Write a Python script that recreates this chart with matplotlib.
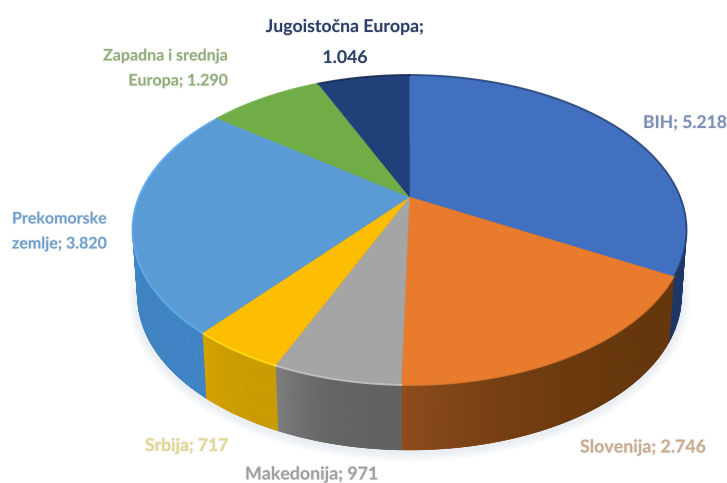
#!/usr/bin/env python3
"""
Tilted 3D-style pie of values per region.
"""

import matplotlib.patheffects as pe
import matplotlib.pyplot as plt
import numpy as np
from matplotlib.colors import to_rgb

categories = ["BIH", "Slovenija", "Makedonija", "Srbija",
              "Prekomorske zemlje", "Zapadna i srednja Europa", "Jugoistočna Europa"]
values = [5218, 2746, 971, 717, 3820, 1290, 1046]
label_texts = ["BIH; 5.218", "Slovenija; 2.746", "Makedonija; 971", "Srbija; 717",
               "Prekomorske\nzemlje; 3.820", "Zapadna i srednja\nEuropa; 1.290",
               "Jugoistočna Europa;\n1.046"]

top_colors = ["#4170c0", "#e97c2c", "#a5a5a5", "#fdbd00", "#5b9bd5", "#70ad47", "#20407a"]
wall_left = ["#1d3666", "#8f4c1c", "#7f7f7f", "#d9a500", "#3f8fd0", "#4c7a2f", "#16294f"]
wall_right = ["#1d3666", "#67370c", "#626262", "#cf9f00", "#3f85c6", "#4c7a2f", "#16294f"]
rim_colors = ["#263f72", "#e07a2e", "#c9c9c9", "#ffe21a", "#62aef0", "#70ad47", "#14264e"]
label_colors = ["#7b90b6", "#c8aa8c", "#9f9f9f", "#e2d78e", "#6fa0cc", "#90ae78", "#2b3f66"]

# top face ellipse, base ellipse and the perspective shift of the pie centre
CX, CY, A, B = 409.5, 230.0, 277.0, 155.0
BX, BY, BA, BB = 409.5, 296.0, 272.0, 154.0
E = 0.213


def project(theta):
    # theta clockwise from 12 o'clock, returns ellipse-unit coords
    u, v = np.sin(theta), np.cos(theta)
    d = 1 + E * v
    return u * np.sqrt(1 - E**2) / d, (v + E) / d


def rim(theta):
    u, v = project(theta)
    return CX + A * u, CY - B * v


def base(theta):
    u, v = project(theta)
    return BX + BA * u, BY - BB * v


def mix(c1, c2, f):
    a, b = np.array(to_rgb(c1)), np.array(to_rgb(c2))
    return tuple(a + (b - a) * f)


def main():
    fig = plt.figure(figsize=(7.27, 4.83), dpi=100)
    ax = fig.add_axes([0, 0, 1, 1])
    ax.set_xlim(0, 727)
    ax.set_ylim(483, 0)
    ax.axis("off")

    edges = np.concatenate([[0], np.cumsum(values)]) / np.sum(values) * 2 * np.pi

    # soft shadow below the base
    full = np.linspace(0, 2 * np.pi, 361)
    bx, by = BX + BA * np.sin(full), BY - BB * np.cos(full)
    for grow in (9, 6, 3):
        ax.fill(BX + (BA + grow) * np.sin(full), BY + 2 - (BB + grow) * np.cos(full),
                color="#9fb4c8", alpha=0.07, lw=0, zorder=1)
    ax.fill(bx, by, color="#555555", lw=0, zorder=1)

    # walls, front part only, the top face hides the rest
    for i in range(len(values)):
        th = np.linspace(edges[i], edges[i + 1], 80)
        vv = project(th)[1]
        for j in range(len(th) - 1):
            if vv[j] > 0.25:
                continue
            x0, y0 = rim(th[j])
            x1, y1 = rim(th[j + 1])
            x2, y2 = base(th[j + 1])
            x3, y3 = base(th[j])
            f = (j / (len(th) - 2)) ** 3
            # theta runs right to left along the front
            col = mix(wall_right[i], wall_left[i], f)
            ax.fill([x0, x1, x2, x3], [y0, y1, y2, y3], color=col, ec=col, lw=0.4, zorder=2)

    # top face
    apex_x, apex_y = rim(0)[0], CY - B * E
    for i in range(len(values)):
        th = np.linspace(edges[i], edges[i + 1], 120)
        xs, ys = rim(th)
        ax.fill(np.r_[apex_x, xs], np.r_[apex_y, ys], color=top_colors[i],
                ec=top_colors[i], lw=0.3, zorder=3)
        ax.plot(xs, ys, color=rim_colors[i], lw=1.4, alpha=0.8, zorder=4)

    # labels
    stroke = [pe.withStroke(linewidth=1.5, alpha=0.25, foreground="#d8d8d8")]
    spots = [(643, 123, "left", 12.6), (580, 447, "left", 12.8), (245, 474, "left", 12.8),
             (145, 446, "left", 12.6), (12, 232, "left", 11.5), (228, 69, "right", 11.5),
             (345, 42, "center", 12.7)]
    for txt, col, (x, y, ha, size) in zip(label_texts, label_colors, spots):
        ax.text(x, y, txt, color=col, ha=ha, va="center", fontsize=size, fontweight="bold",
                family="Lato", linespacing=2.0, multialignment=ha, zorder=5, path_effects=stroke)

    fig.savefig("out.png", dpi=100)


if __name__ == "__main__":
    main()
